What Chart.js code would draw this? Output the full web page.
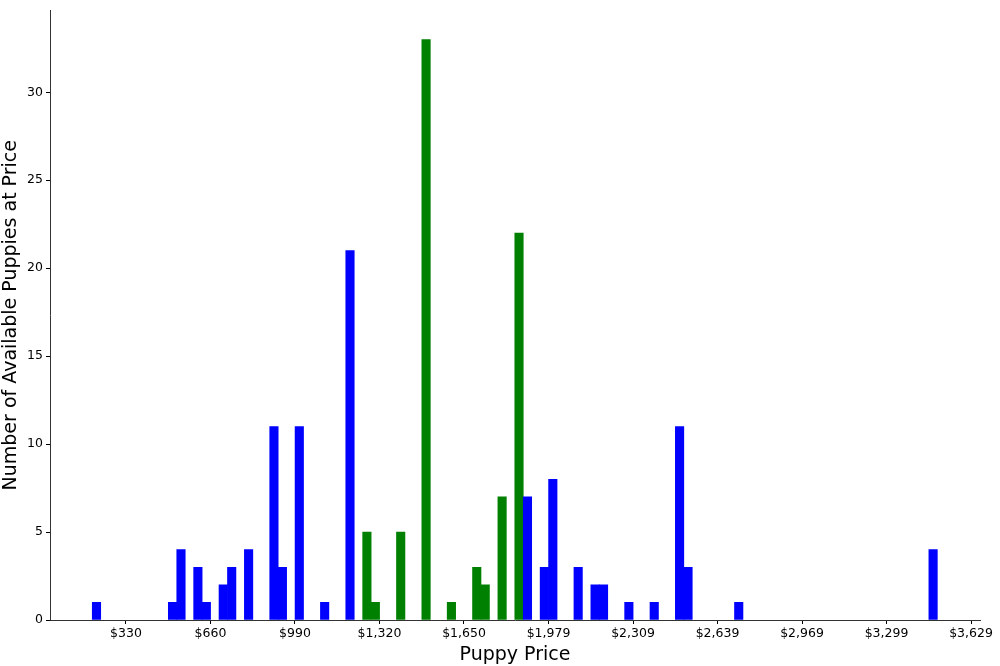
<!DOCTYPE html>
<html><head><meta charset="utf-8">
<script src="https://cdn.jsdelivr.net/npm/chart.js@4"></script>
<style>html,body{margin:0;padding:0;background:#fff}#w{width:1000px;height:666px}</style>
</head><body><div id="w"><canvas id="c"></canvas></div>
<script>
// histogram: 100 bins, first bin left edge and width in $
const binStart = 198.3;
const binWidth = 32.99;
const blueBins   = [0,9,10,12,13,15,16,18,21,22,24,27,30,51,53,54,57,59,60,63,66,69,70,76,99];
const blueCounts = [1,1,4,3,1,2,3,4,11,3,11,1,21,7,3,8,3,2,2,1,1,11,3,1,4];
const greenBins   = [32,33,36,39,42,45,46,48,50];
const greenCounts = [5,1,5,33,1,3,2,7,22];
const xTicks = [329.9,659.8,989.7,1319.6,1649.5,1979.4,2309.3,2639.2,2969.1,3299,3628.9];
const yTicks = [0,5,10,15,20,25,30];
const ctr = k => binStart + binWidth*(k+0.5);
const mk = (b,c)=>b.map((k,i)=>({x:ctr(k),y:c[i]}));
new Chart(document.getElementById('c'),{
 type:'bar',
 data:{datasets:[
  {data:mk(blueBins,blueCounts),backgroundColor:'#0000ff',grouped:false,barPercentage:1,categoryPercentage:1},
  {data:mk(greenBins,greenCounts),backgroundColor:'#008000',grouped:false,barPercentage:1,categoryPercentage:1}
 ]},
 options:{responsive:true,maintainAspectRatio:false,animation:false,
  layout:{padding:{top:8,right:20,left:0,bottom:0}},
  plugins:{legend:{display:false},tooltip:{enabled:false}},
  scales:{
   x:{type:'linear',min:33.3,max:3663.9,offset:false,
    afterBuildTicks:s=>{s.ticks=xTicks.map(v=>({value:v}));},
    afterFit:s=>{s.height=46;},
    grid:{offset:false,drawOnChartArea:false,drawTicks:true,tickLength:4,color:'#000'},
    border:{display:true,color:'#333'},
    ticks:{color:'#000',font:{family:'DejaVu Sans',size:12.5},padding:2,maxRotation:0,autoSkip:false,
      callback:v=>'$'+Math.round(v).toLocaleString('en-US')},
    title:{display:true,text:'Puppy Price',color:'#000',font:{family:'DejaVu Sans',size:19},padding:{top:0,bottom:0}}},
   y:{min:0,max:34.65,
    afterBuildTicks:s=>{s.ticks=yTicks.map(v=>({value:v}));},
    afterFit:s=>{s.width=50;},
    grid:{drawOnChartArea:false,drawTicks:true,tickLength:4,color:'#000'},
    border:{display:true,color:'#333'},
    ticks:{color:'#000',font:{family:'DejaVu Sans',size:12.5},padding:3},
    title:{display:true,text:'Number of Available Puppies at Price',color:'#000',font:{family:'DejaVu Sans',size:19},padding:{top:0,bottom:2}}}
  }}
});
</script></body></html>
